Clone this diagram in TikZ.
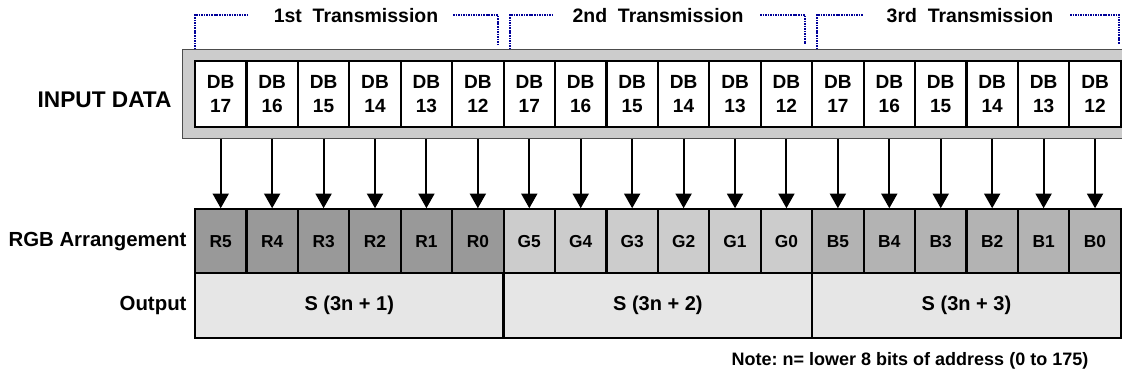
\documentclass[tikz,border=0pt]{standalone}
\usepackage{fontspec}
\setmainfont{Liberation Sans}
\usetikzlibrary{arrows.meta}
\frenchspacing

\definecolor{bracketblue}{RGB}{0,0,153}
\definecolor{framegray}{RGB}{204,204,204}
\definecolor{redfill}{RGB}{153,153,153}
\definecolor{greenfill}{RGB}{204,204,204}
\definecolor{bluefill}{RGB}{179,179,179}
\definecolor{outfill}{RGB}{230,230,230}

\tikzset{every picture/.style={line width=0.75pt}}
\tikzset{
  dbcell/.style={draw, line width=1.6pt, fill=white, minimum width=38.57pt, minimum height=49.5pt, inner sep=0pt, align=center, font=\fontsize{14.3}{18.5}\selectfont\bfseries},
  bitcell/.style={draw, line width=1.6pt, minimum width=38.57pt, minimum height=48pt, inner sep=0pt, font=\fontsize{13}{15}\selectfont\bfseries},
  outbox/.style={draw, line width=1.6pt, fill=outfill, minimum width=231.4pt, minimum height=48.3pt, inner sep=0pt, font=\fontsize{15}{18}\selectfont\bfseries},
  rowlabel/.style={anchor=east, inner sep=0pt, font=\fontsize{15.3}{18}\selectfont\bfseries},
  txlabel/.style={inner sep=0pt, font=\fontsize{14.6}{17}\selectfont\bfseries},
  bracket/.style={draw=bracketblue, line width=1.2pt, dash pattern=on 1.2pt off 0.7pt},
  feed/.style={-{Triangle[width=12pt,length=11pt]}, line width=1.5pt},
}

\begin{document}
\begin{tikzpicture}[x=0.75pt,y=0.75pt,yscale=-1,xscale=1]
\useasboundingbox (0,0) rectangle (1122,374);

%Shape: Rectangle [id:inputframe]
\node [draw=black!70, fill=framegray, minimum width=712.7pt, minimum height=66.75pt, inner sep=0pt] (inbox) at (657.9,93.8) {};

%Input data cells
\foreach \i in {1,...,18}{
  \pgfmathtruncatemacro{\bit}{17-mod(\i-1,6)}
  \node [dbcell] (db\i) at ({169.29+51.43*\i},94) {DB\\\bit};
}

%RGB arrangement cells
\foreach \i/\t/\c in {1/R5/redfill,2/R4/redfill,3/R3/redfill,4/R2/redfill,5/R1/redfill,6/R0/redfill,
  7/G5/greenfill,8/G4/greenfill,9/G3/greenfill,10/G2/greenfill,11/G1/greenfill,12/G0/greenfill,
  13/B5/bluefill,14/B4/bluefill,15/B3/bluefill,16/B2/bluefill,17/B1/bluefill,18/B0/bluefill}{
  \node [bitcell, fill=\c] (rgb\i) at ({169.29+51.43*\i},241.3) {\t};
}

%Straight Lines
\foreach \i in {1,...,18}{
  \draw [feed] (inbox.south -| rgb\i.north) -- (rgb\i.north);
}

%Output cells
\foreach \k in {1,2,3}{
  \node [outbox] (out\k) at ({40.71+308.58*\k},305.5) {S (3n + \k)};
}

%Transmission brackets
\draw [bracket] (195,49.3) -- (195,15) -- (247,15);
\draw [bracket] (453,15) -- (497.7,15) -- (497.7,44);
\draw [bracket] (510,49.3) -- (510,15) -- (554,15);
\draw [bracket] (760,15) -- (805,15) -- (805,44);
\draw [bracket] (817,49.3) -- (817,15) -- (863,15);
\draw [bracket] (1070,15) -- (1119,15) -- (1119,44);

% Text Node
\node [txlabel] (tx1) at (356,16) {1st\ \ Transmission};
% Text Node
\node [txlabel] (tx2) at (658,16) {2nd\ \ Transmission};
% Text Node
\node [txlabel] (tx3) at (970,16) {3rd\ \ Transmission};
% Text Node
\node [rowlabel, font=\fontsize{17}{20}\selectfont\bfseries] (lblin) at (172,100) {INPUT DATA};
% Text Node
\node [rowlabel] (lblrgb) at (187,241.3) {RGB Arrangement};
% Text Node
\node [rowlabel] (lblout) at (187,305.5) {Output};
% Text Node
\node [inner sep=0pt, font=\fontsize{13.5}{16}\selectfont\bfseries] (note) at (910,361) {Note: n= lower 8 bits of address (0 to 175)};

\end{tikzpicture}
\end{document}
